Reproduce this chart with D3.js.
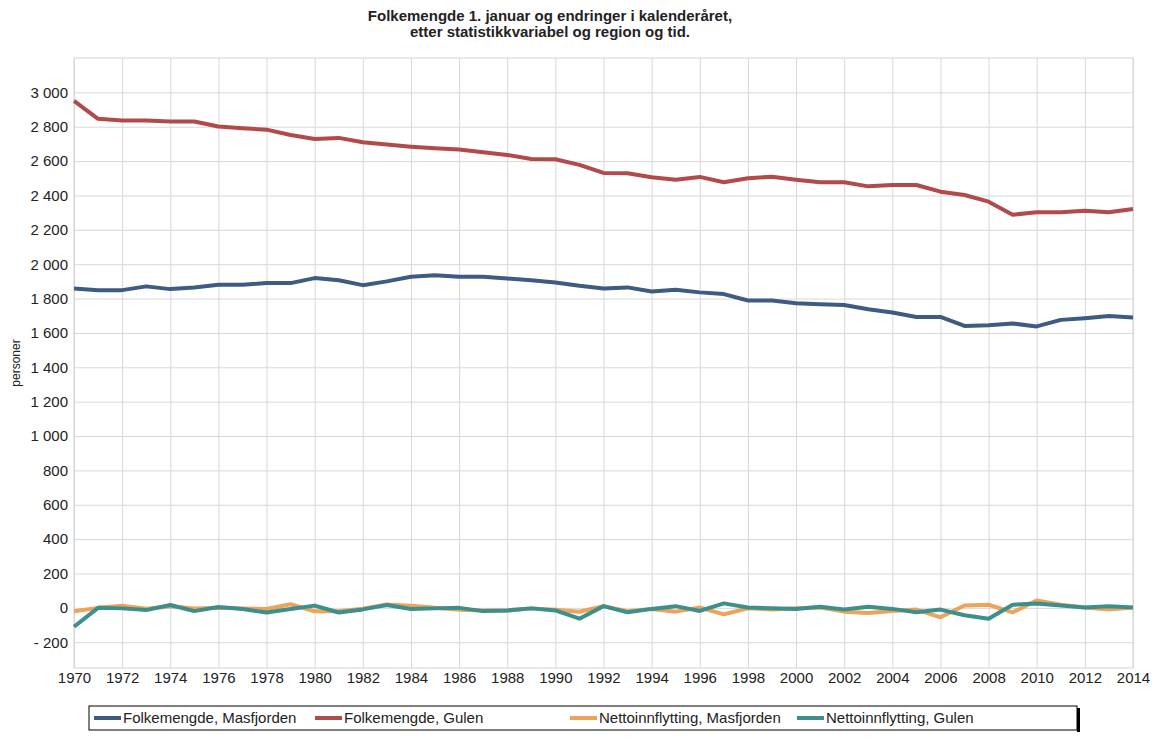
<!DOCTYPE html>
<html>
<head>
<meta charset="utf-8">
<script src="https://cdn.jsdelivr.net/npm/d3@7"></script>
<style>
  body { margin: 0; background: #fff; }
  text { font-family: "Liberation Sans", Arial, sans-serif; fill: #222; }
</style>
</head>
<body>
<div id="chart"></div>
<script>
// data
const years = d3.range(1970, 2015);

const folkMasfjorden = [
    1859, 1849, 1849, 1871, 1855, 1865, 1880, 1880, 1890, 1890,
    1919, 1907, 1878, 1900, 1927, 1936, 1927, 1927, 1917, 1907,
    1894, 1874, 1859, 1865, 1841, 1851, 1836, 1826, 1789, 1789,
    1773, 1767, 1763, 1738, 1719, 1693, 1693, 1641, 1645, 1655,
    1638, 1676, 1686, 1699, 1690
];

const folkGulen = [
    2950, 2846, 2836, 2836, 2830, 2830, 2801, 2791, 2783, 2752,
    2729, 2735, 2710, 2696, 2684, 2675, 2667, 2652, 2636, 2612,
    2611, 2578, 2531, 2529, 2506, 2492, 2508, 2477, 2500, 2509,
    2492, 2477, 2477, 2453, 2461, 2461, 2422, 2403, 2364, 2288,
    2302, 2302, 2311, 2302, 2321
];

const nettoMasfjorden = [
    -20, 0, 12, -5, 10, -3, 0, -3, -7, 21,
    -20, -20, -5, 20, 13, 0, -11, -15, -15, -3,
    -11, -23, 10, -20, -6, -22, 2, -38, -2, -10,
    -2, 2, -22, -30, -18, -10, -55, 14, 18, -26,
    43, 18, 2, -10, 2
];

const nettoGulen = [
    -110, 0, -3, -13, 17, -19, 5, -7, -27, -7,
    13, -27, -9, 17, -7, -3, 0, -19, -15, -3,
    -15, -63, 10, -26, -6, 10, -18, 26, 2, -2,
    -6, 6, -10, 6, -6, -26, -10, -43, -63, 18,
    26, 14, 2, 10, 2
];

const seriesNames = [
    "Folkemengde, Masfjorden",
    "Folkemengde, Gulen",
    "Nettoinnflytting, Masfjorden",
    "Nettoinnflytting, Gulen"
];
const seriesColors = ["#3e5b82", "#b24a4c", "#eda35a", "#3d8f8c"];
const seriesValues = [folkMasfjorden, folkGulen, nettoMasfjorden, nettoGulen];

const xTicks = d3.range(1970, 2015, 2);
const yTicks = d3.range(-200, 3001, 200);
const yDomain = [-350, 3200];

const titleLines = [
    "Folkemengde 1. januar og endringer i kalenderåret,",
    "etter statistikkvariabel og region og tid."
];
const yLabel = "personer";

drawChart();

function drawChart() {
    const width = 1156;
    const height = 741;
    const margin = {top: 58, right: 23, bottom: 73, left: 74};

    const svg = d3.select("#chart")
        .append("svg")
        .attr("width", width)
        .attr("height", height);

    const innerWidth = width - margin.left - margin.right;
    const innerHeight = height - margin.top - margin.bottom;

    const g = svg.append("g")
        .attr("transform", `translate(${margin.left},${margin.top})`);

    const x = d3.scaleLinear()
        .domain([1970, 2014])
        .range([0, innerWidth]);

    const y = d3.scaleLinear()
        .domain(yDomain)
        .range([innerHeight, 0]);

    // "3 000", "- 200"
    const fmt = d3.formatLocale({decimal: ",", thousands: " ", grouping: [3], currency: ["", ""]}).format(",d");
    const yFormat = d => d < 0 ? "- " + fmt(-d) : fmt(d);

    // frame
    g.append("rect")
        .attr("width", innerWidth)
        .attr("height", innerHeight)
        .attr("fill", "none")
        .attr("stroke", "#d4d4d4");

    // Y-Axis with grid
    const yAxis = g.append("g")
        .call(d3.axisLeft(y).tickValues(yTicks).tickSize(-innerWidth).tickPadding(6).tickFormat(yFormat));
    yAxis.select(".domain").remove();
    yAxis.selectAll("line").attr("stroke", "#d8d8d8");
    yAxis.selectAll("text").style("font-size", "15px").attr("fill", "#222");

    // X-Axis with grid
    const xAxis = g.append("g")
        .attr("transform", `translate(0,${innerHeight})`)
        .call(d3.axisBottom(x).tickValues(xTicks).tickSize(-innerHeight).tickPadding(4).tickFormat(d3.format("d")));
    xAxis.select(".domain").remove();
    xAxis.selectAll("line").attr("stroke", "#d8d8d8");
    xAxis.selectAll("text").style("font-size", "15px").attr("fill", "#222");

    // Title
    svg.selectAll(".title")
        .data(titleLines)
        .enter()
        .append("text")
        .attr("class", "title")
        .attr("x", 550)
        .attr("y", (d, i) => 21 + i * 16)
        .style("text-anchor", "middle")
        .style("font-size", "15px")
        .style("font-weight", "bold")
        .text(d => d);

    // Y label
    svg.append("text")
        .attr("transform", "rotate(-90)")
        .attr("x", -(margin.top + innerHeight / 2))
        .attr("y", 20)
        .style("text-anchor", "middle")
        .style("font-size", "12px")
        .text(yLabel);

    // Lines
    const line = d3.line()
        .x((d, i) => x(years[i]))
        .y(d => y(d));

    seriesValues.forEach((vals, k) => {
        g.append("path")
            .datum(vals)
            .attr("d", line)
            .attr("fill", "none")
            .attr("stroke", seriesColors[k])
            .attr("stroke-width", 4)
            .attr("stroke-linejoin", "round");
    });

    // Legend
    const legendX = 89;
    const legendY = 706;
    const legendW = 988;
    const legendH = 24;
    const itemX = [94, 315, 570, 797];

    svg.append("rect")
        .attr("x", legendX + legendW)
        .attr("y", legendY + 2)
        .attr("width", 3)
        .attr("height", legendH)
        .attr("fill", "#000");

    svg.append("rect")
        .attr("x", legendX)
        .attr("y", legendY)
        .attr("width", legendW)
        .attr("height", legendH)
        .attr("fill", "#fff")
        .attr("stroke", "#000");

    const items = svg.selectAll(".legend-item")
        .data(seriesNames)
        .enter()
        .append("g")
        .attr("class", "legend-item")
        .attr("transform", (d, i) => `translate(${itemX[i]},${legendY + legendH / 2})`);

    items.append("line")
        .attr("x1", 0)
        .attr("x2", 27)
        .attr("stroke", (d, i) => seriesColors[i])
        .attr("stroke-width", 4);

    items.append("text")
        .attr("x", 29)
        .attr("dy", "0.35em")
        .style("font-size", "15px")
        .text(d => d);
}
</script>
</body>
</html>
